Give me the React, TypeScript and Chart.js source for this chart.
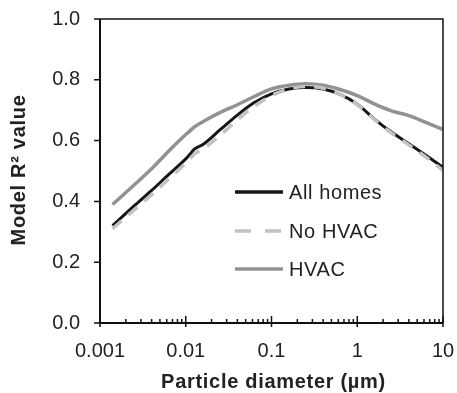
import React, { useEffect, useRef } from "react";
import { Chart, registerables } from "chart.js";

Chart.register(...registerables);

const diameters = [0.0014, 0.0025, 0.004, 0.0063, 0.01, 0.0112, 0.0126, 0.016, 0.025, 0.04, 0.063, 0.1, 0.16, 0.25, 0.4, 0.63, 1, 1.6, 2.5, 4, 6.3, 10];
const allHomes = [0.32, 0.385, 0.436, 0.488, 0.54, 0.555, 0.572, 0.588, 0.635, 0.684, 0.725, 0.754, 0.77, 0.775, 0.77, 0.752, 0.72, 0.67, 0.628, 0.59, 0.552, 0.512];
const noHvac = [0.31, 0.372, 0.422, 0.474, 0.526, 0.54, 0.556, 0.573, 0.617, 0.668, 0.713, 0.748, 0.77, 0.778, 0.772, 0.752, 0.718, 0.668, 0.625, 0.586, 0.546, 0.502];
const hvac = [0.39, 0.454, 0.507, 0.565, 0.62, 0.632, 0.645, 0.663, 0.692, 0.718, 0.745, 0.77, 0.782, 0.787, 0.782, 0.768, 0.748, 0.72, 0.698, 0.682, 0.66, 0.637];

const seriesNames = ["All homes", "No HVAC", "HVAC"];
const xTickLabels = ["0.001", "0.01", "0.1", "1", "10"];
const yTicks = [0, 0.2, 0.4, 0.6, 0.8, 1.0];
const xTitle = "Particle diameter (µm)";
const yTitle = "Model R² value";

const FONT = "'Liberation Sans', Arial, sans-serif";
const TEXT = "#222";

const pts = (ys: number[]) => diameters.map((d, i) => ({ x: d, y: ys[i] }));

const decorPlugin = {
  id: "decor",
  afterDraw(chart: any) {
    const ctx = chart.ctx;
    const { left, right, top, bottom } = chart.chartArea;
    const xs = chart.scales.x;
    const ys = chart.scales.y;
    ctx.save();
    ctx.strokeStyle = "#111";
    ctx.lineWidth = 1.5;
    ctx.beginPath();
    ctx.moveTo(left, top);
    ctx.lineTo(right, top);
    ctx.lineTo(right, bottom);
    ctx.stroke();
    ctx.lineWidth = 2;
    ctx.beginPath();
    ctx.moveTo(left, top);
    ctx.lineTo(left, bottom);
    ctx.lineTo(right, bottom);
    ctx.stroke();
    ctx.lineWidth = 1.5;
    ctx.beginPath();
    yTicks.forEach((v) => {
      const y = ys.getPixelForValue(v);
      ctx.moveTo(left - 6, y);
      ctx.lineTo(left, y);
    });
    ctx.stroke();
    ctx.beginPath();
    for (let e = -3; e <= 1; e++) {
      const base = Math.pow(10, e);
      const xm = xs.getPixelForValue(base);
      ctx.moveTo(xm, bottom - 7);
      ctx.lineTo(xm, bottom + 4);
      if (e < 1) {
        for (let m = 2; m <= 9; m++) {
          const x = xs.getPixelForValue(base * m);
          ctx.moveTo(x, bottom - 4);
          ctx.lineTo(x, bottom);
        }
      }
    }
    ctx.stroke();

    const legendX = 235;
    const legendLen = 48;
    const legendY = [192, 231, 269];
    chart.data.datasets.forEach((ds: any, i: number) => {
      const y = legendY[i];
      ctx.strokeStyle = ds.borderColor;
      ctx.lineWidth = 3.5;
      ctx.setLineDash(i === 1 ? [16, 14] : []);
      ctx.beginPath();
      ctx.moveTo(legendX, y);
      ctx.lineTo(legendX + legendLen, y);
      ctx.stroke();
      ctx.setLineDash([]);
      ctx.fillStyle = TEXT;
      ctx.font = `20px ${FONT}`;
      (ctx as any).letterSpacing = "0.6px";
      ctx.textAlign = "left";
      ctx.textBaseline = "middle";
      ctx.fillText(ds.label, legendX + legendLen + 6, y + 1);
    });

    ctx.fillStyle = TEXT;
    ctx.font = `bold 20px ${FONT}`;
    (ctx as any).letterSpacing = "0.7px";
    ctx.textAlign = "center";
    ctx.textBaseline = "middle";
    ctx.fillText(xTitle, (left + right) / 2 + 2, 382);
    ctx.save();
    ctx.translate(19, 170);
    ctx.rotate(-Math.PI / 2);
    ctx.fillText(yTitle, 0, 0);
    ctx.restore();
    ctx.restore();
  },
};

export default function App() {
  const ref = useRef<HTMLCanvasElement | null>(null);
  useEffect(() => {
    document.body.style.margin = "0";
    const canvas = ref.current;
    if (!canvas) return;
    const chart = new Chart(canvas, {
      type: "line",
      data: {
        datasets: [
          {
            label: seriesNames[0],
            data: pts(allHomes),
            borderColor: "#151515",
            borderWidth: 3,
            pointRadius: 0,
            cubicInterpolationMode: "monotone",
            order: 1,
          },
          {
            label: seriesNames[1],
            data: pts(noHvac),
            borderColor: "#c2c2c2",
            borderWidth: 3.5,
            borderDash: [12, 9],
            pointRadius: 0,
            cubicInterpolationMode: "monotone",
            order: 0,
          },
          {
            label: seriesNames[2],
            data: pts(hvac),
            borderColor: "#929292",
            borderWidth: 3.5,
            pointRadius: 0,
            cubicInterpolationMode: "monotone",
            order: 2,
          },
        ],
      } as any,
      options: {
        responsive: false,
        devicePixelRatio: 1,
        animation: false,
        layout: { padding: { top: 19, right: 14, left: 0, bottom: 0 } },
        plugins: { legend: { display: false }, tooltip: { enabled: false } },
        scales: {
          x: {
            type: "logarithmic",
            min: 0.001,
            max: 10,
            grid: { display: false, drawTicks: false },
            border: { display: false },
            afterBuildTicks: (scale: any) => {
              scale.ticks = xTickLabels.map((t) => ({ value: parseFloat(t) }));
            },
            ticks: {
              autoSkip: false,
              maxRotation: 0,
              padding: 16,
              color: TEXT,
              font: { family: FONT, size: 20 },
              callback: (v: any) => {
                const idx = xTickLabels.findIndex((t) => Math.abs(parseFloat(t) - v) < 1e-9 * Math.max(1, v));
                return idx >= 0 ? xTickLabels[idx] : "";
              },
            },
            afterFit: (scale: any) => {
              scale.height = 70;
              scale.paddingLeft = 0;
              scale.paddingRight = 0;
            },
          },
          y: {
            min: 0,
            max: 1,
            grid: { display: false, drawTicks: false },
            border: { display: false },
            afterBuildTicks: (scale: any) => {
              scale.ticks = yTicks.map((v) => ({ value: v }));
            },
            ticks: {
              padding: 20,
              color: TEXT,
              font: { family: FONT, size: 20 },
              callback: (v: any) => Number(v).toFixed(1),
            },
            afterFit: (scale: any) => {
              scale.width = 100;
              scale.paddingTop = 0;
              scale.paddingBottom = 0;
            },
          },
        },
      } as any,
      plugins: [decorPlugin],
    });
    return () => chart.destroy();
  }, []);
  return (
    <div style={{ width: 457, height: 393 }}>
      <canvas ref={ref} width={457} height={393} style={{ display: "block" }} />
    </div>
  );
}
